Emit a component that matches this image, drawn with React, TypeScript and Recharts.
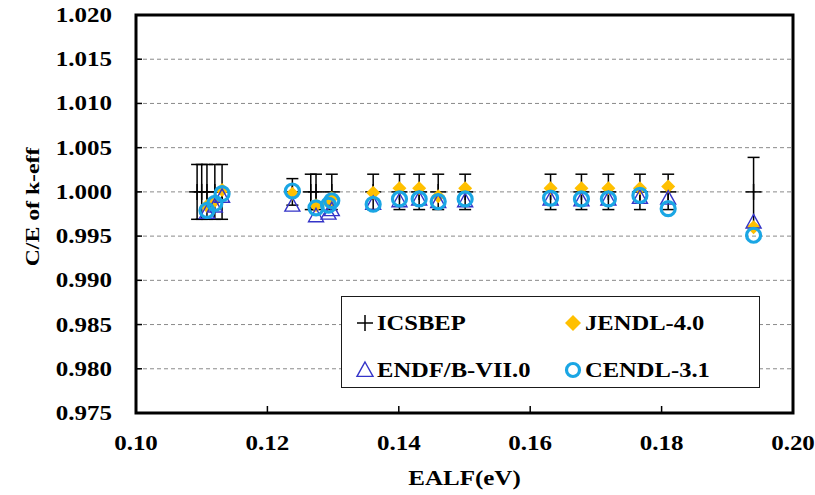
import React from 'react';
import {
  ScatterChart,
  Scatter,
  XAxis,
  YAxis,
  CartesianGrid,
  ErrorBar,
  ReferenceArea,
  Legend,
} from 'recharts';

// Axis ticks
const ealfTicks = [0.1, 0.12, 0.14, 0.16, 0.18, 0.2];
const ceTicks = [0.975, 0.98, 0.985, 0.99, 0.995, 1.0, 1.005, 1.01, 1.015, 1.02];

// ICSBEP benchmark values (C/E = 1) with experimental uncertainties
const icsbepEalf = [
  0.1093, 0.11, 0.1108, 0.112, 0.1131, 0.1238, 0.1266, 0.1274, 0.1298, 0.1361, 0.1401, 0.1431,
  0.146, 0.1501, 0.1631, 0.1678, 0.1719, 0.1767, 0.181, 0.194,
];
const icsbepCE = [
  1.0, 1.0, 1.0, 1.0, 1.0, 1.0, 1.0, 1.0, 1.0, 1.0, 1.0, 1.0, 1.0, 1.0, 1.0, 1.0, 1.0, 1.0, 1.0, 1.0,
];
const icsbepUnc = [
  0.0031, 0.0031, 0.0031, 0.0031, 0.0031, 0.0015, 0.002, 0.002, 0.002, 0.002, 0.002, 0.002, 0.002,
  0.002, 0.002, 0.002, 0.002, 0.002, 0.002, 0.0039,
];

// Calculated C/E for each nuclear data library
const libEalf = [
  0.1108, 0.112, 0.1131, 0.1238, 0.1274, 0.1293, 0.1298, 0.1361, 0.1401, 0.1431, 0.146, 0.1501,
  0.1631, 0.1678, 0.1719, 0.1767, 0.181, 0.194,
];
const jendlCE = [
  0.9984, 0.999, 1.0002, 0.9998, 0.9985, 0.9988, 0.9993, 0.9999, 1.0004, 1.0004, 0.9995, 1.0004,
  1.0004, 1.0004, 1.0004, 1.0004, 1.0006, 0.996,
];
const endfCE = [
  0.9977, 0.9984, 0.9995, 0.9985, 0.9973, 0.9976, 0.998, 0.9987, 0.999, 0.9992, 0.9989, 0.999,
  0.9992, 0.9991, 0.9992, 0.9994, 0.9993, 0.9966,
];
const cendlCE = [
  0.9979, 0.9987, 0.9998, 1.0001, 0.9982, 0.9985, 0.999, 0.9986, 0.9992, 0.9992, 0.9989, 0.9992,
  0.9993, 0.9992, 0.9992, 0.9996, 0.9981, 0.9951,
];

const icsbepRows = icsbepEalf.map((x, i) => ({ x, y: icsbepCE[i], err: icsbepUnc[i] }));
const jendlRows = libEalf.map((x, i) => ({ x, y: jendlCE[i] }));
const endfRows = libEalf.map((x, i) => ({ x, y: endfCE[i] }));
const cendlRows = libEalf.map((x, i) => ({ x, y: cendlCE[i] }));

const FONT = "'Liberation Serif', 'Times New Roman', serif";
const STRETCH = 1.25;
const GOLD = '#FFC000';
const BLUE = '#3434C8';
const CYAN = '#1AA6E4';

const X_TICK_MARGIN = 30;
const Y_TICK_MARGIN = 24;

// Marker shapes
const plusShape = (cx: number, cy: number, s = 8) => (
  <g>
    <line x1={cx - s} x2={cx + s} y1={cy} y2={cy} stroke="#000" strokeWidth={1.5} />
    <line x1={cx} x2={cx} y1={cy - s} y2={cy + s} stroke="#000" strokeWidth={1.5} />
  </g>
);
const diamondShape = (cx: number, cy: number, s = 7) => (
  <path d={`M${cx},${cy - s}L${cx + s},${cy}L${cx},${cy + s}L${cx - s},${cy}Z`} fill={GOLD} />
);
const triangleShape = (cx: number, cy: number, s = 7.5) => (
  <path
    d={`M${cx},${cy - s}L${cx + s},${cy + s * 0.8}L${cx - s},${cy + s * 0.8}Z`}
    fill="none"
    stroke={BLUE}
    strokeWidth={1.4}
  />
);
const circleShape = (cx: number, cy: number, r = 7) => (
  <circle cx={cx} cy={cy} r={r} fill="none" stroke={CYAN} strokeWidth={3.2} />
);

const Plus = (p: any) => plusShape(p.cx, p.cy);
const Diamond = (p: any) => diamondShape(p.cx, p.cy);
const Triangle = (p: any) => triangleShape(p.cx, p.cy);
const Ring = (p: any) => circleShape(p.cx, p.cy);

const StretchText = ({ x, y, text, size, anchor = 'middle', rotate = 0 }: any) => (
  <g transform={`translate(${x},${y}) rotate(${rotate})`}>
    <text
      transform={`scale(${STRETCH},1)`}
      textAnchor={anchor}
      dy="0.35em"
      fontFamily={FONT}
      fontWeight="bold"
      fontSize={size}
      fill="#000"
    >
      {text}
    </text>
  </g>
);

const XTick = (props: any) => {
  const { x, y, payload } = props;
  const axisY = y - X_TICK_MARGIN;
  return (
    <g>
      <line x1={x} x2={x} y1={axisY} y2={axisY - 7} stroke="#000" strokeWidth={1.5} />
      <StretchText x={x} y={y} text={Number(payload.value).toFixed(2)} size={20} />
    </g>
  );
};

const YTick = (props: any) => {
  const { x, y, payload } = props;
  const axisX = x + Y_TICK_MARGIN;
  return (
    <g>
      <line x1={axisX} x2={axisX + 6} y1={y} y2={y} stroke="#000" strokeWidth={1.5} />
      <StretchText x={x} y={y} text={Number(payload.value).toFixed(3)} size={20} anchor="end" />
    </g>
  );
};

const legendIcons: Record<string, (cx: number, cy: number) => React.ReactNode> = {
  ICSBEP: (cx, cy) => plusShape(cx, cy, 8),
  'JENDL-4.0': (cx, cy) => diamondShape(cx, cy, 8),
  'ENDF/B-VII.0': (cx, cy) => triangleShape(cx, cy, 8),
  'CENDL-3.1': (cx, cy) => circleShape(cx, cy, 6.5),
};

const legendOrder = ['ICSBEP', 'JENDL-4.0', 'ENDF/B-VII.0', 'CENDL-3.1'];

const LegendBox = () => (
  <div
    style={{
      width: 419,
      height: 92,
      boxSizing: 'border-box',
      border: '1.5px solid #1a1a1a',
      background: '#fff',
    }}
  >
    <svg width={416} height={89}>
      {legendOrder.map((name, i) => {
        const col = i % 2;
        const row = Math.floor(i / 2);
        const cx = col === 0 ? 23 : 231;
        const cy = row === 0 ? 26 : 73;
        return (
          <g key={name}>
            {legendIcons[name](cx, cy)}
            <g transform={`translate(${cx + 12},${cy})`}>
              <text
                transform="scale(1.17,1)"
                dy="0.35em"
                fontFamily={FONT}
                fontWeight="bold"
                fontSize={21}
                fill="#000"
              >
                {name}
              </text>
            </g>
          </g>
        );
      })}
    </svg>
  </div>
);

export default function App() {
  return (
    <div style={{ position: 'absolute', left: 0, top: 0, background: '#fff' }}>
      <ScatterChart width={815} height={495} margin={{ top: 15, right: 22, bottom: 0, left: 0 }}>
        <CartesianGrid vertical={false} stroke="#8a8a8a" strokeDasharray="4 3" strokeWidth={1} />
        <XAxis
          type="number"
          dataKey="x"
          domain={[0.1, 0.2]}
          ticks={ealfTicks}
          height={82}
          axisLine={false}
          tickLine={false}
          tickSize={0}
          tickMargin={X_TICK_MARGIN}
          tick={<XTick />}
          interval={0}
          allowDataOverflow
          label={{
            value: 'EALF(eV)',
            content: (p: any) => (
              <StretchText x={p.viewBox.x + p.viewBox.width / 2} y={p.viewBox.y + 65} text="EALF(eV)" size={20} />
            ),
          }}
        />
        <YAxis
          type="number"
          dataKey="y"
          domain={[0.975, 1.02]}
          ticks={ceTicks}
          width={136}
          axisLine={false}
          tickLine={false}
          tickSize={0}
          tickMargin={Y_TICK_MARGIN}
          tick={<YTick />}
          interval={0}
          allowDataOverflow
          label={{
            value: 'C/E of k-eff',
            content: (p: any) => (
              <StretchText x={p.viewBox.x + 32} y={p.viewBox.y + 192} text="C/E of k-eff" size={19} rotate={-90} />
            ),
          }}
        />
        <ReferenceArea
          x1={0.1}
          x2={0.2}
          y1={0.975}
          y2={1.02}
          fill="none"
          fillOpacity={0}
          stroke="#000"
          strokeWidth={3}
          ifOverflow="visible"
        />
        <Scatter name="ICSBEP" data={icsbepRows} shape={Plus} isAnimationActive={false}>
          <ErrorBar dataKey="err" direction="y" width={6} stroke="#000" strokeWidth={1.5} isAnimationActive={false} />
        </Scatter>
        <Scatter name="JENDL-4.0" data={jendlRows} shape={Diamond} isAnimationActive={false} />
        <Scatter name="ENDF/B-VII.0" data={endfRows} shape={Triangle} isAnimationActive={false} />
        <Scatter name="CENDL-3.1" data={cendlRows} shape={Ring} isAnimationActive={false} />
        <Legend
          layout="horizontal"
          verticalAlign="middle"
          align="center"
          content={() => <LegendBox />}
          wrapperStyle={{ left: 341, top: 296, width: 419, height: 92 }}
        />
      </ScatterChart>
    </div>
  );
}
